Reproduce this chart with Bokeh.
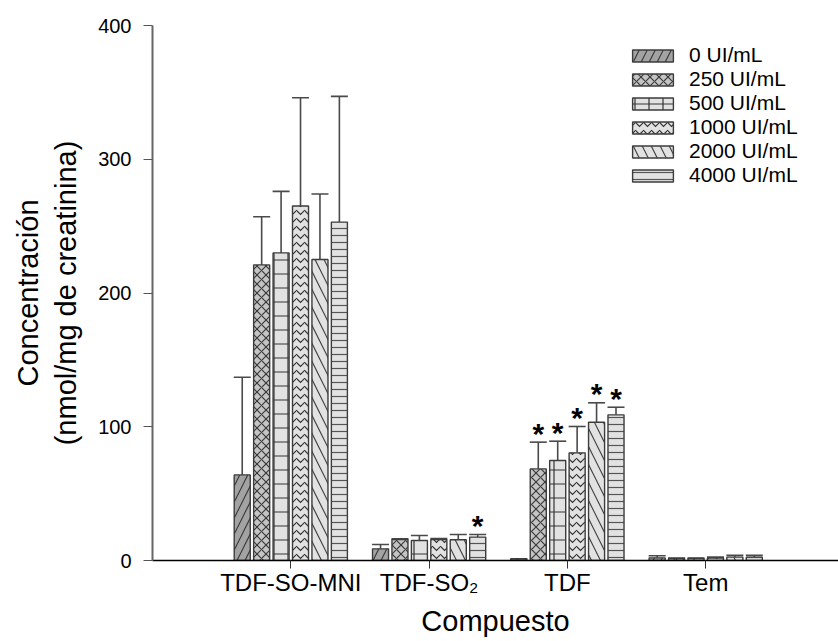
from bokeh.plotting import figure
from bokeh.models import ColumnDataSource, Whisker, TeeHead, Legend, LegendItem, FixedTicker, Range1d
from bokeh.embed import file_html
from bokeh.resources import INLINE
from bokeh.core.properties import value

# ---- data ----
compounds = ["TDF-SO-MNI", "TDF-SO₂", "TDF", "Tem"]
doses = ["0 UI/mL", "250 UI/mL", "500 UI/mL", "1000 UI/mL", "2000 UI/mL", "4000 UI/mL"]

mean_0 = [64.0, 8.7, 1.2, 2.0]
mean_250 = [221.0, 15.7, 68.5, 1.5]
mean_500 = [230.0, 15.0, 74.8, 1.5]
mean_1000 = [265.0, 15.7, 80.5, 1.8]
mean_2000 = [225.0, 15.5, 103.4, 2.5]
mean_4000 = [253.0, 17.5, 108.9, 2.5]

err_0 = [73.0, 3.3, 0.0, 1.5]
err_250 = [36.0, 0.5, 20.0, 0.3]
err_500 = [46.0, 3.7, 14.4, 0.3]
err_1000 = [81.0, 0.8, 19.7, 0.7]
err_2000 = [49.0, 3.9, 14.5, 1.3]
err_4000 = [94.0, 1.9, 5.7, 1.3]

sig_0 = [0, 0, 0, 0]
sig_250 = [0, 0, 1, 0]
sig_500 = [0, 0, 1, 0]
sig_1000 = [0, 0, 1, 0]
sig_2000 = [0, 0, 1, 0]
sig_4000 = [0, 1, 1, 0]

y_ticks = [0, 100, 200, 300, 400]

means = [mean_0, mean_250, mean_500, mean_1000, mean_2000, mean_4000]
errs = [err_0, err_250, err_500, err_1000, err_2000, err_4000]
sigs = [sig_0, sig_250, sig_500, sig_1000, sig_2000, sig_4000]

# ---- styles ----
fills = ["#a3a3a3", "#c4c4c4", "#e2e2e2", "#e2e2e2", "#e2e2e2", "#e2e2e2"]
hatches = ["/", "x", "+", "v", "\\", "-"]
hatch_scales = [16, 9, 14, 8, 18, 7]
hatch_colors = ["#3a3a3a", "#3a3a3a", "#333333", "#333333", "#444444", "#555555"]
FONT = "Liberation Sans"

p = figure(width=838, height=641, output_backend="svg", toolbar_location=None,
           x_range=Range1d(0, 4.96), y_range=Range1d(0, 400),
           min_border_left=152, min_border_right=0, min_border_top=25, min_border_bottom=81)
p.outline_line_color = None
p.grid.visible = False
p.background_fill_color = "white"

pitch = 0.1405
bw = 0.116
items = []
for i, dose in enumerate(doses):
    xs = [c + 1 + (i - 2.5) * pitch for c in range(len(compounds))]
    tops = means[i]
    uppers = [m + e for m, e in zip(means[i], errs[i])]
    src = ColumnDataSource(dict(x=xs, top=tops, upper=uppers))
    r = p.vbar(x="x", top="top", width=bw, source=src,
               fill_color=fills[i], line_color="#3c3c3c", line_width=1.4,
               hatch_pattern=hatches[i], hatch_color=hatch_colors[i],
               hatch_scale=hatch_scales[i], hatch_weight=1.2)
    w = Whisker(base="x", upper="upper", lower="top", source=src,
                line_color="#4a4a4a", line_width=1.6,
                upper_head=TeeHead(size=17, line_color="#4a4a4a", line_width=1.6),
                lower_head=None)
    p.add_layout(w)
    items.append(LegendItem(label=dose, renderers=[r]))
    sx = [x for x, s in zip(xs, sigs[i]) if s]
    sy = [u for u, s in zip(uppers, sigs[i]) if s]
    if sx:
        p.text(x=sx, y=sy, text=["*"] * len(sx), text_align="center",
               text_baseline="alphabetic", y_offset=-9,
               text_font=value(FONT), text_font_size="30px", text_font_style="bold",
               text_color="black")

legend = Legend(items=items, location=(475, 373), orientation="vertical",
                glyph_width=51, glyph_height=15, label_height=15, spacing=-2,
                padding=0, margin=0, label_standoff=11,
                label_text_font=FONT, label_text_font_size="21px",
                label_text_color="black",
                border_line_color=None, background_fill_alpha=0)
p.add_layout(legend, "center")

# axes
p.xaxis.ticker = FixedTicker(ticks=[1, 2, 3, 4])
p.xaxis.major_label_overrides = {1: compounds[0], 2: compounds[1], 3: compounds[2], 4: compounds[3]}
p.xaxis.minor_tick_line_color = None
p.xaxis.major_tick_out = 8
p.xaxis.major_tick_in = 0
p.xaxis.axis_line_color = "black"
p.xaxis.axis_line_width = 1.5
p.xaxis.major_tick_line_color = "#333333"
p.xaxis.major_label_text_font = FONT
p.xaxis.major_label_text_font_size = "24px"
p.xaxis.major_label_text_color = "black"
p.xaxis.major_label_standoff = 0
p.xaxis.axis_label = "Compuesto"
p.xaxis.axis_label_text_font = FONT
p.xaxis.axis_label_text_font_size = "29px"
p.xaxis.axis_label_text_font_style = "normal"
p.xaxis.axis_label_text_color = "black"
p.xaxis.axis_label_standoff = 6

p.yaxis.ticker = FixedTicker(ticks=y_ticks)
p.yaxis.minor_tick_line_color = None
p.yaxis.major_tick_out = 9
p.yaxis.major_tick_in = 0
p.yaxis.axis_line_color = "#666666"
p.yaxis.axis_line_width = 2
p.yaxis.major_tick_line_color = "#555555"
p.yaxis.major_label_text_font = FONT
p.yaxis.major_label_text_font_size = "20px"
p.yaxis.major_label_text_color = "black"
p.yaxis.major_label_standoff = 12
p.yaxis.axis_label = "Concentración\n(nmol/mg de creatinina)"
p.yaxis.axis_label_text_font = FONT
p.yaxis.axis_label_text_font_size = "29px"
p.yaxis.axis_label_text_font_style = "normal"
p.yaxis.axis_label_text_color = "black"
p.yaxis.axis_label_standoff = 13

open("out.html", "w").write(file_html(p, INLINE))
